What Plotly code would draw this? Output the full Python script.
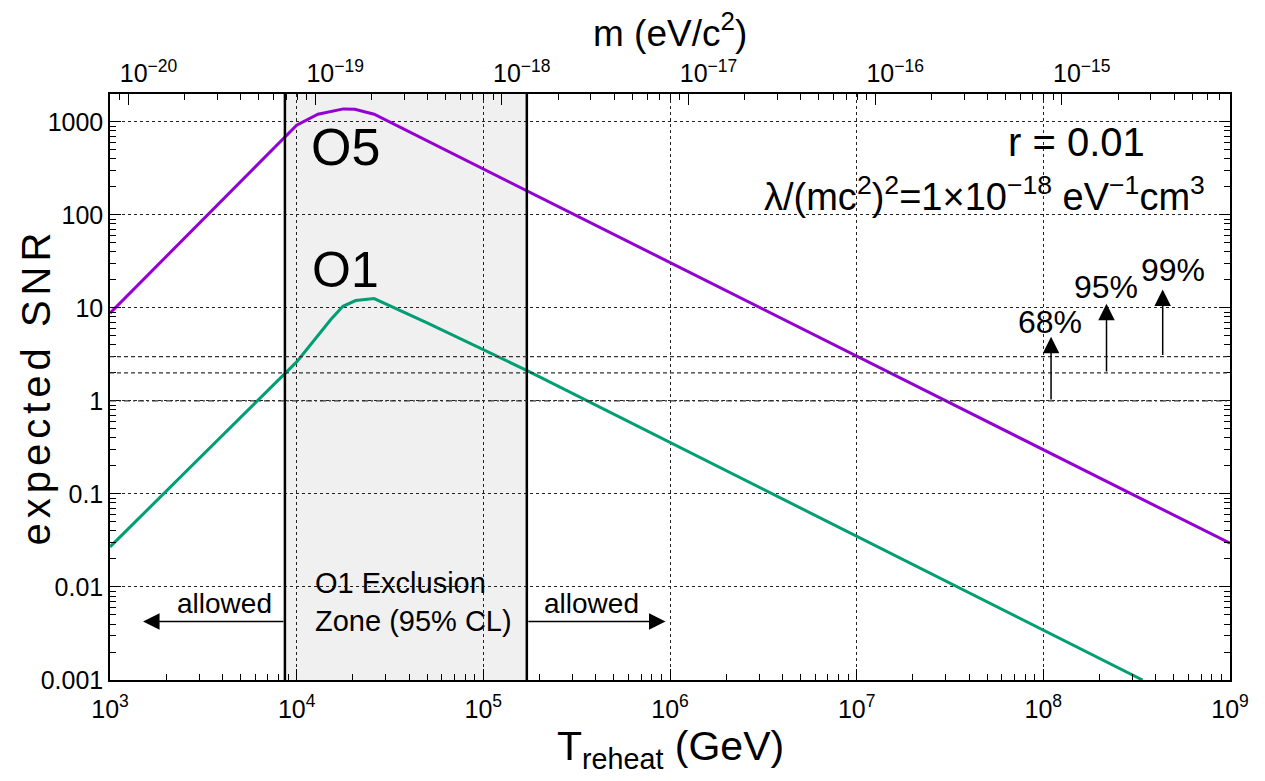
import math
import plotly.graph_objects as go

# ---------------- data ----------------
o5_T = [1e3, 1e4, 1.3e4, 1.78e4, 2.05e4, 2.6e4, 1e9]
o5_snr = [8.8, 920, 1210, 1380, 1370, 1210, 0.0295]

o1_T = [1e3, 1e4, 1.52e4, 1.77e4, 2.07e4, 2.6e4, 5e4, 1.76e5, 3.4e8]
o1_snr = [0.027, 2.63, 7.45, 10.4, 12.0, 12.6, 6.9, 2.07, 0.001]

excl_T = [8650, 1.71e5]          # O1 exclusion zone bounds (GeV)
cl_levels = [1, 2, 3]            # SNR thresholds
cl_labels = ["68%", "95%", "99%"]
cl_arrow_T = [1.1e8, 2.18e8, 4.36e8]
cl_arrow_tip = [4.9, 11.1, 15.8]

x_tick_exp = [3, 4, 5, 6, 7, 8, 9]
y_tickvals = [0.001, 0.01, 0.1, 1, 10, 100, 1000]
y_ticktext = ["0.001", "0.01", "0.1", "1", "10", "100", "1000"]
m_tick_exp = [-20, -19, -18, -17, -16, -15]
m_at_T1000 = 10 ** -20.099      # mass corresponding to T = 1e3 GeV

FONT = "Liberation Sans, Arial, Helvetica, sans-serif"
PURPLE = "#9400d3"
GREEN = "#009e73"

L = math.log10

fig = go.Figure()

fig.add_trace(go.Scatter(x=o5_T, y=o5_snr, mode="lines",
                         line=dict(color=PURPLE, width=3),
                         showlegend=False, hoverinfo="skip"))
fig.add_trace(go.Scatter(x=o1_T, y=o1_snr, mode="lines",
                         line=dict(color=GREEN, width=3),
                         showlegend=False, hoverinfo="skip"))
# invisible trace for top axis
fig.add_trace(go.Scatter(x=[m_at_T1000, m_at_T1000 * 1e6], y=[1, 1], xaxis="x2",
                         mode="lines", line=dict(width=0), opacity=0,
                         showlegend=False, hoverinfo="skip"))

# shaded exclusion zone + bounding lines
fig.add_shape(type="rect", xref="x", yref="paper", x0=excl_T[0], x1=excl_T[1], y0=0, y1=1,
              fillcolor="#f0f0f0", line=dict(width=0), layer="below")
for t in excl_T:
    fig.add_shape(type="line", xref="x", yref="paper", x0=t, x1=t, y0=0, y1=1,
                  line=dict(color="black", width=2.5), layer="above")

# horizontal CL lines
dashes = ["6px,3px,2px,3px", "4px,3px", "4px,3px"]
for lvl, d in zip(cl_levels, dashes):
    fig.add_shape(type="line", xref="paper", yref="y", x0=0, x1=1, y0=lvl, y1=lvl,
                  line=dict(color="#333333", width=1.2, dash=d), layer="above")

annotations = []
# CL arrows and labels
label_pos = [(8.036, 0.845), (8.336, 1.222), (8.695, 1.405)]
for lvl, lab, t, tip, (lx, ly) in zip(cl_levels, cl_labels, cl_arrow_T, cl_arrow_tip, label_pos):
    annotations.append(dict(x=L(t), y=L(tip), ax=L(t), ay=L(lvl), xref="x", yref="y",
                            axref="x", ayref="y", text="", showarrow=True,
                            arrowhead=2, arrowsize=2.2, arrowwidth=1.5, arrowcolor="black"))
    annotations.append(dict(x=lx, y=ly, xref="x", yref="y", text=lab, showarrow=False,
                            xanchor="center", yanchor="middle",
                            font=dict(family=FONT, size=32, color="black")))

# allowed arrows
arrow_y = L(0.00426)
annotations.append(dict(x=3.177, y=arrow_y, ax=L(excl_T[0]), ay=arrow_y, xref="x", yref="y",
                        axref="x", ayref="y", text="", showarrow=True, arrowhead=2,
                        arrowsize=2.2, arrowwidth=1.5, arrowcolor="black"))
annotations.append(dict(x=5.976, y=arrow_y, ax=L(excl_T[1]), ay=arrow_y, xref="x", yref="y",
                        axref="x", ayref="y", text="", showarrow=True, arrowhead=2,
                        arrowsize=2.2, arrowwidth=1.5, arrowcolor="black"))
for xa in (3.613, 5.578):
    annotations.append(dict(x=xa, y=-2.175, xref="x", yref="y", text="allowed", showarrow=False,
                            xanchor="center", yanchor="middle",
                            font=dict(family=FONT, size=28, color="black")))
annotations.append(dict(x=4.085, y=-2.16, xref="x", yref="y", xanchor="left", yanchor="middle",
                        align="left", text="O1 Exclusion<br>Zone (95% CL)", showarrow=False,
                        font=dict(family=FONT, size=29, color="black")))

# curve labels
annotations.append(dict(x=4.261, y=2.728, xref="x", yref="y", text="O5", showarrow=False,
                        xanchor="center", yanchor="middle",
                        font=dict(family=FONT, size=52, color="black")))
annotations.append(dict(x=4.261, y=1.405, xref="x", yref="y", text="O1", showarrow=False,
                        xanchor="center", yanchor="middle",
                        font=dict(family=FONT, size=50, color="black")))

# parameter texts
annotations.append(dict(x=8.556, y=2.782, xref="x", yref="y", xanchor="right", yanchor="middle",
                        text="r = 0.01", showarrow=False,
                        font=dict(family=FONT, size=40, color="black")))
annotations.append(dict(x=8.877, y=2.23, xref="x", yref="y", xanchor="right", yanchor="middle",
                        text="λ/(mc<sup>2</sup>)<sup>2</sup>=1×10<sup>−18</sup> eV<sup>−1</sup>cm<sup>3</sup>",
                        showarrow=False, font=dict(family=FONT, size=38, color="black")))

# axis titles
annotations.append(dict(x=0.5, y=-0.118, xref="paper", yref="paper",
                        xanchor="center", yanchor="middle",
                        text="T<sub>reheat</sub> (GeV)", showarrow=False,
                        font=dict(family=FONT, size=41, color="black")))
annotations.append(dict(x=-0.0665, y=0.5, xref="paper", yref="paper", textangle=-90,
                        xanchor="center", yanchor="middle",
                        text='<span style="letter-spacing:5px">expected SNR</span>',
                        showarrow=False,
                        font=dict(family=FONT, size=40, color="black")))
annotations.append(dict(x=0.5, y=1.108, xref="paper", yref="paper",
                        xanchor="center", yanchor="middle",
                        text="m (eV/c<sup>2</sup>)", showarrow=False,
                        font=dict(family=FONT, size=37, color="black")))

axis_common = dict(showline=True, linecolor="black", linewidth=1.5, ticks="inside",
                   tickcolor="black", tickwidth=1, ticklen=11,
                   tickfont=dict(family=FONT, size=25, color="black"), zeroline=False)

fig.update_layout(
    width=1265, height=781,
    paper_bgcolor="white", plot_bgcolor="white",
    margin=dict(l=110, r=35, t=94, b=101, autoexpand=False),
    showlegend=False,
    xaxis=dict(type="log", range=[3, 9], tickvals=[10 ** e for e in x_tick_exp],
               ticktext=[f"10<sup>{e}</sup>" for e in x_tick_exp],
               ticklabelstandoff=6,
               showgrid=True, gridcolor="#222222", griddash="dot", gridwidth=1,
               minor=dict(ticks="inside", ticklen=6, tickcolor="black", dtick="D1", showgrid=False),
               mirror=False, **axis_common),
    xaxis2=dict(type="log", overlaying="x", side="top", anchor="y",
                range=[L(m_at_T1000), L(m_at_T1000) + 6],
                tickvals=[10 ** e for e in m_tick_exp],
                ticktext=[f"10<sup>−{-e}</sup>" for e in m_tick_exp],
                ticklabelshift=20,
                showgrid=False,
                minor=dict(ticks="inside", ticklen=6, tickcolor="black", dtick="D1", showgrid=False),
                **axis_common),
    yaxis=dict(type="log", range=[-3, 3.3], tickvals=y_tickvals, ticktext=y_ticktext,
               showgrid=True, gridcolor="#222222", griddash="dot", gridwidth=1,
               minor=dict(ticks="inside", ticklen=6, tickcolor="black", dtick="D1", showgrid=False),
               mirror="ticks", **axis_common),
    annotations=annotations,
)

fig.write_html("out.html", config={"displayModeBar": False},
               post_script="document.body.style.margin='0';")
